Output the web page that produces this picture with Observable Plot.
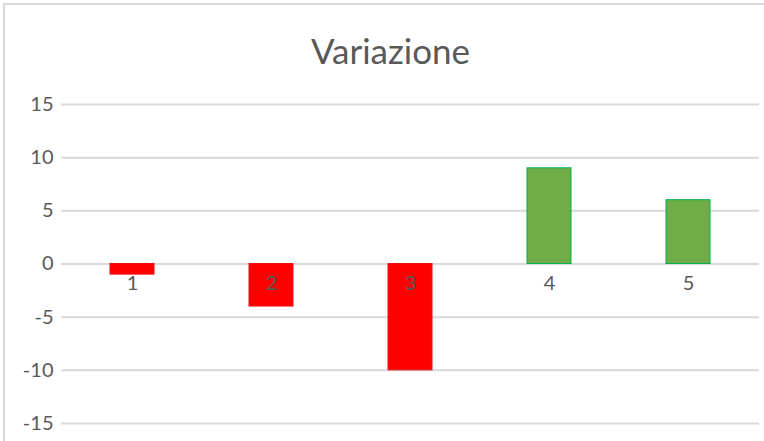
<!DOCTYPE html>
<html>
<head>
<meta charset="utf-8">
<script src="https://cdn.jsdelivr.net/npm/d3@7"></script>
<script src="https://cdn.jsdelivr.net/npm/@observablehq/plot@0.6"></script>
<style>
  html, body { margin: 0; padding: 0; background: #fff; overflow: hidden; }
  #wrap { position: relative; width: 764px; height: 441px; overflow: hidden; }
  #border { position: absolute; left: 3px; top: 3px; width: 800px; height: 500px;
            border: 2.5px solid #d9d9d9; box-sizing: border-box; }
  #chart { position: absolute; left: 0; top: 0; }
</style>
</head>
<body>
<div id="wrap">
  <div id="border"></div>
  <div id="chart"></div>
</div>
<script>
const title = "Variazione";
const categories = ["1", "2", "3", "4", "5"];
const values = [-1, -4, -10, 9, 6];
const yTicks = [15, 10, 5, 0, -5, -10, -15];

const data = categories.map((c, i) => ({cat: c, value: values[i]}));

const plot = Plot.plot({
  width: 764,
  height: 441,
  marginTop: 104,
  marginBottom: 18,
  marginLeft: 61,
  marginRight: 5,
  style: {fontFamily: "Lato, sans-serif", background: "transparent", overflow: "visible"},
  x: {domain: categories, paddingInner: 0.68, paddingOuter: 0.34, axis: null},
  y: {domain: [-15, 15], ticks: yTicks, axis: null},
  marks: [
    Plot.gridY(yTicks, {stroke: "#d9d9d9", strokeOpacity: 1, strokeWidth: 2}),
    Plot.axisY(yTicks, {tickSize: 0, tickPadding: 8, fontSize: 20, fill: "#595959", label: null, tickFormat: d => String(d)}),
    Plot.barY(data, {
      x: "cat", y: "value",
      fill: d => d.value < 0 ? "#FF0000" : "#70AD47",
      stroke: d => d.value < 0 ? "#F01010" : "#00B050",
      strokeWidth: 1
    }),
    Plot.text(data, {x: "cat", y: () => 0, text: "cat", dy: 20, fontSize: 20, fill: "#595959", lineAnchor: "middle"}),
    Plot.text([title], {frameAnchor: "top", dy: -41, lineAnchor: "bottom", fontSize: 35, fill: "#595959", dx: -20})
  ]
});
document.getElementById("chart").appendChild(plot);
</script>
</body>
</html>
